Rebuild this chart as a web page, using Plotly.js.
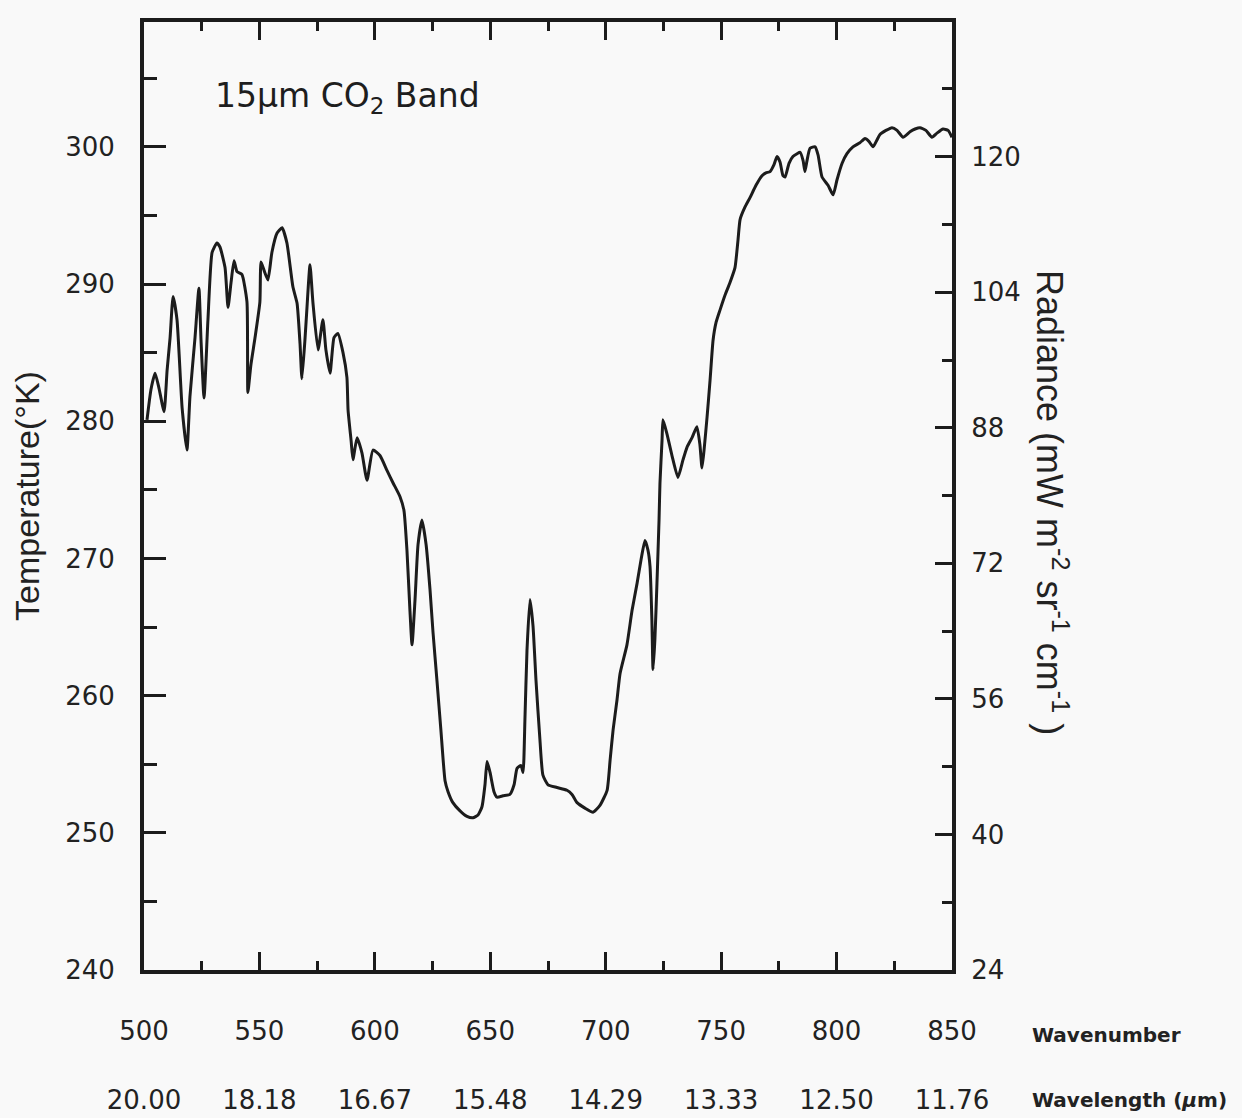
<!DOCTYPE html>
<html>
<head>
<meta charset="utf-8">
<script src="https://cdn.plot.ly/plotly-3.0.1.min.js"></script>
<style>
  html, body { margin: 0; padding: 0; background: #f9f9f9; }
  #chart { width: 1242px; height: 1118px; }
</style>
</head>
<body>
<div id="chart"></div>
<script>
// Spectrum: wavenumber (cm^-1) vs brightness temperature (K)
const wavenumber = [
  501.3, 503.0, 504.8, 506.5, 508.7, 510.0, 511.3, 512.6, 514.3, 516.5,
  518.6, 519.9, 522.1, 523.8, 524.7, 526.0, 527.7, 529.5, 531.6, 532.9,
  535.1, 536.4, 537.7, 539.0, 540.3, 542.4, 544.6, 545.0, 546.3, 548.1,
  550.2, 550.7, 552.4, 553.7, 555.4, 557.6, 559.8, 561.9, 564.5, 566.3,
  567.6, 568.4, 569.7, 570.6, 571.9, 573.2, 575.4, 577.5, 578.8, 580.6,
  582.3, 584.0, 586.2, 587.9, 588.4, 589.7, 590.5, 592.3, 594.4, 596.6,
  599.2, 602.2, 605.3, 607.9, 610.9, 612.6, 613.9, 615.2, 616.1, 617.4,
  618.7, 620.4, 622.2, 623.9, 625.2, 626.9, 628.6, 630.4, 631.7, 633.8,
  636.9, 639.9, 642.5, 644.7, 646.4, 647.7, 648.6, 649.9, 651.6, 652.9,
  655.5, 658.5, 660.3, 661.6, 663.3, 664.2, 665.0, 665.9, 667.2, 668.5,
  669.8, 671.5, 672.8, 675.0, 678.9, 683.2, 685.4, 687.6, 691.0, 694.5,
  697.5, 700.6, 701.9, 703.2, 704.9, 706.2, 709.2, 711.4, 713.6, 715.3,
  717.0, 718.3, 719.2, 720.0, 720.5, 721.3, 722.2, 723.1, 723.5, 724.4,
  724.8, 726.5, 728.7, 731.3, 733.5, 735.2, 737.4, 739.5, 740.8, 741.7,
  742.6, 743.9, 745.2, 746.5, 747.8, 749.5, 751.7, 753.8, 756.0, 757.3,
  758.2, 760.3, 762.5, 765.1, 767.7, 769.4, 771.2, 772.9, 774.2, 775.5,
  776.8, 777.7, 779.4, 781.1, 782.9, 784.2, 785.5, 786.3, 787.2, 788.5,
  790.7, 792.0, 793.7, 796.3, 798.5, 800.2, 802.4, 804.5, 807.1, 810.1,
  812.3, 814.0, 815.8, 817.5, 818.8, 821.4, 824.0, 826.2, 828.8, 831.8,
  834.0, 836.1, 838.7, 841.3, 843.5, 846.1, 848.3, 850.0
];
const temperature = [
  280.1, 282.3, 283.5, 282.4, 280.7, 283.7, 286.1, 289.1, 287.4, 281.0,
  277.9, 281.8, 286.1, 289.7, 285.9, 281.7, 287.4, 292.3, 293.0, 292.7,
  291.2, 288.3, 290.1, 291.7, 290.9, 290.7, 288.7, 282.1, 284.1, 286.1,
  288.7, 291.6, 290.8, 290.3, 292.3, 293.7, 294.1, 293.0, 289.8, 288.6,
  285.6, 283.1, 285.9, 288.3, 291.4, 288.6, 285.2, 287.4, 285.2, 283.5,
  286.1, 286.4, 285.0, 283.2, 280.8, 278.6, 277.2, 278.8, 277.7, 275.7,
  277.9, 277.5, 276.4, 275.5, 274.5, 273.5, 270.6, 266.2, 263.7, 267.0,
  271.0, 272.8, 271.0, 267.7, 264.6, 261.1, 257.5, 253.8, 253.0, 252.2,
  251.6, 251.2, 251.1, 251.3, 251.9, 253.5, 255.2, 254.4, 253.0, 252.6,
  252.7, 252.8, 253.5, 254.7, 254.9, 254.4, 258.2, 263.3, 267.0, 265.1,
  261.1, 256.8, 254.2, 253.5, 253.3, 253.1, 252.8, 252.2, 251.8, 251.5,
  252.0, 253.1, 255.3, 257.5, 259.7, 261.6, 263.7, 266.2, 268.2, 269.9,
  271.3, 270.6, 269.4, 265.5, 261.9, 264.1, 268.2, 272.8, 275.5, 278.6,
  280.1, 279.1, 277.5, 275.9, 277.2, 278.1, 278.8, 279.6, 278.3, 276.6,
  277.9, 280.3, 283.0, 285.9, 287.2, 288.1, 289.2, 290.1, 291.2, 293.2,
  294.7, 295.6, 296.3, 297.2, 297.9, 298.1, 298.2, 298.7, 299.3, 298.9,
  297.9, 297.8, 298.8, 299.3, 299.5, 299.6, 299.0, 298.2, 299.0, 299.9,
  300.0, 299.4, 297.8, 297.2, 296.5, 297.6, 298.8, 299.5, 300.0, 300.3,
  300.6, 300.4, 300.0, 300.5, 300.9, 301.2, 301.4, 301.2, 300.7, 301.1,
  301.3, 301.4, 301.2, 300.7, 301.0, 301.3, 301.2, 300.7
];

// Tick labels
const tickWavenumbers = [500, 550, 600, 650, 700, 750, 800, 850];
const tickWavelengths = ["20.00", "18.18", "16.67", "15.48", "14.29", "13.33", "12.50", "11.76"];
const temperatureTicks = [240, 250, 260, 270, 280, 290, 300];
const radianceTicks = [24, 40, 56, 72, 88, 104, 120];

const ink = '#1c1c1c';
const numFont = { family: 'DejaVu Sans', size: 26, color: '#222' };

const traces = [
  {
    x: wavenumber,
    y: temperature,
    type: 'scatter',
    mode: 'lines',
    line: { color: ink, width: 3, shape: 'spline', smoothing: 0.5 },
    showlegend: false,
    hoverinfo: 'x+y'
  },
  { // anchors the radiance axis
    x: [500, 850], y: [null, null], yaxis: 'y2',
    type: 'scatter', mode: 'lines', showlegend: false, hoverinfo: 'skip'
  },
  { // anchors the wavelength axis
    x: [500, 850], y: [null, null], xaxis: 'x2',
    type: 'scatter', mode: 'lines', showlegend: false, hoverinfo: 'skip'
  }
];

const layout = {
  width: 1242,
  height: 1118,
  margin: { l: 144, r: 290, t: 22, b: 148 },
  paper_bgcolor: '#f9f9f9',
  plot_bgcolor: '#f9f9f9',
  showlegend: false,
  title: {
    text: '15μm CO<sub>2</sub> Band',
    font: { family: 'DejaVu Sans', size: 33, color: '#1e1e1e' },
    xref: 'paper', yref: 'paper',
    x: 0.0879, xanchor: 'left',
    y: 0.922, yanchor: 'middle'
  },
  xaxis: {
    range: [500, 850],
    tickmode: 'array',
    tickvals: tickWavenumbers,
    ticktext: tickWavenumbers.map(String),
    ticks: 'inside', ticklen: 18, tickwidth: 3, tickcolor: ink,
    minor: { tickmode: 'linear', tick0: 500, dtick: 25, ticks: 'inside', ticklen: 9, tickwidth: 3, tickcolor: ink, showgrid: false },
    showline: true, linewidth: 4, linecolor: ink, mirror: 'ticks',
    showgrid: false, zeroline: false,
    tickfont: numFont,
    ticklabelstandoff: 35
  },
  xaxis2: {
    overlaying: 'x',
    anchor: 'free',
    position: 0,
    side: 'bottom',
    range: [500, 850],
    tickmode: 'array',
    tickvals: tickWavenumbers,
    ticktext: tickWavelengths,
    ticks: '', showline: false, showgrid: false, zeroline: false,
    tickfont: numFont,
    ticklabelstandoff: 112
  },
  yaxis: {
    range: [240, 309.1],
    tickmode: 'array',
    tickvals: temperatureTicks,
    ticks: 'inside', ticklen: 22, tickwidth: 3, tickcolor: ink,
    minor: { tickmode: 'linear', tick0: 240, dtick: 5, ticks: 'inside', ticklen: 13, tickwidth: 3, tickcolor: ink, showgrid: false },
    showline: true, linewidth: 4, linecolor: ink, mirror: false,
    showgrid: false, zeroline: false,
    tickfont: numFont,
    ticklabelstandoff: 20,
    title: {
      text: 'Temperature(°K)',
      font: { family: 'Liberation Sans', size: 34, color: '#222' },
      standoff: 16
    }
  },
  yaxis2: {
    overlaying: 'y',
    side: 'right',
    anchor: 'x',
    range: [24, 135.9],
    tickmode: 'array',
    tickvals: radianceTicks,
    ticks: 'inside', ticklen: 17, tickwidth: 3, tickcolor: ink,
    minor: { tickmode: 'linear', tick0: 24, dtick: 8, ticks: 'inside', ticklen: 10, tickwidth: 3, tickcolor: ink, showgrid: false },
    showline: true, linewidth: 4, linecolor: ink,
    showgrid: false, zeroline: false,
    tickfont: numFont,
    ticklabelstandoff: 10
  },
  annotations: [
    {
      text: 'Radiance (mW m<sup>-2</sup> sr<sup>-1</sup> cm<sup>-1</sup> )',
      xref: 'paper', yref: 'paper',
      x: 1.1238, y: 0.4937,
      xanchor: 'center', yanchor: 'middle',
      textangle: 90,
      showarrow: false,
      font: { family: 'Liberation Sans', size: 36, color: '#222' }
    },
    {
      text: '<b>Wavenumber</b>',
      xref: 'paper', yref: 'paper',
      x: 1.0965, y: -0.0686,
      xanchor: 'left', yanchor: 'middle',
      showarrow: false,
      font: { family: 'DejaVu Sans', size: 20, color: '#222' }
    },
    {
      text: '<b>Wavelength (<i>μ</i>m)</b>',
      xref: 'paper', yref: 'paper',
      x: 1.0965, y: -0.137,
      xanchor: 'left', yanchor: 'middle',
      showarrow: false,
      font: { family: 'DejaVu Sans', size: 20, color: '#222' }
    }
  ]
};

Plotly.newPlot('chart', traces, layout, { displayModeBar: false, staticPlot: true });
</script>
</body>
</html>
